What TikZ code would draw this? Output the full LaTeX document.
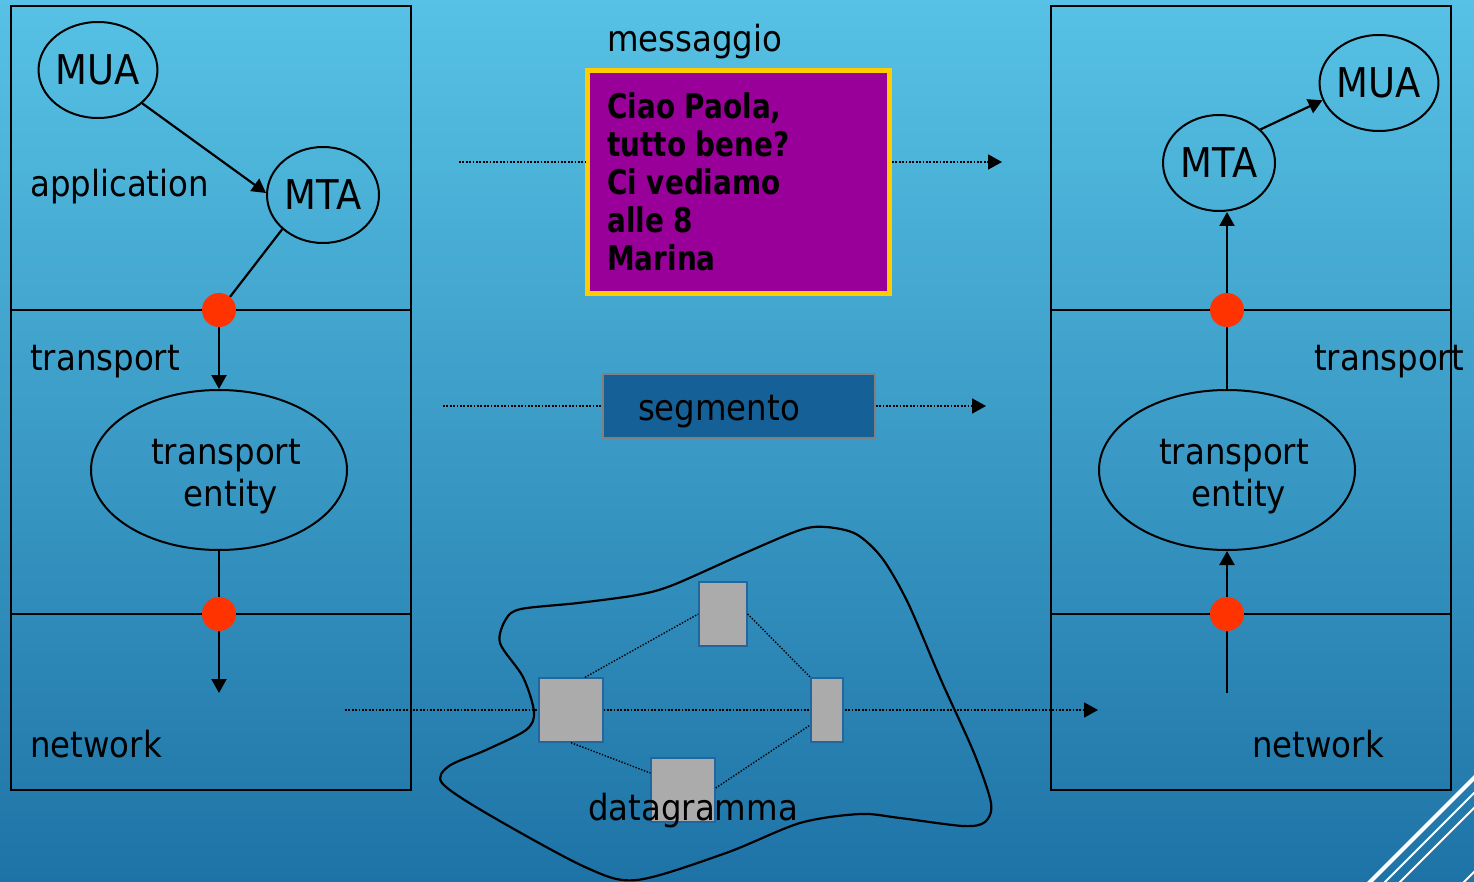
\documentclass[tikz,border=0pt]{standalone}
\usepackage{fontspec}
\setmainfont{DejaVu Sans}[FakeStretch=0.9]
\newfontfamily\msgfont{DejaVu Sans}[FakeStretch=0.82]
\usetikzlibrary{arrows.meta,shapes.geometric}
\definecolor{bgtop}{RGB}{87,194,229}
\definecolor{bgbot}{RGB}{30,115,166}
\definecolor{dotred}{RGB}{255,51,0}
\definecolor{msgpurple}{RGB}{153,0,153}
\definecolor{msgyellow}{RGB}{255,204,0}
\definecolor{segblue}{RGB}{21,96,150}
\definecolor{segedge}{RGB}{128,128,128}
\definecolor{routergray}{RGB}{171,171,171}
\definecolor{routeredge}{RGB}{34,102,160}
\begin{document}
\begin{tikzpicture}[x=1pt,y=-1pt,
  lbl/.style={inner sep=0, font=\fontsize{36}{42}\selectfont, anchor=base west},
  ell/.style={ellipse, draw, line width=2, inner sep=0, minimum width=112, minimum height=96, font=\fontsize{41}{48}\selectfont},
  bigell/.style={ellipse, draw, line width=2, inner sep=0, minimum width=256, minimum height=160},
  ellt/.style={inner sep=0, align=center, font=\fontsize{36}{42}\selectfont},
  layerbox/.style={draw, line width=2.2},
  reddot/.style={circle, fill=dotred, inner sep=0, minimum size=34},
  arr/.style={line width=2.2, -{Triangle[length=14pt,width=15pt]}},
  ln/.style={line width=2.2},
  dotline/.style={line width=1.8, dash pattern=on 1.8pt off 1.6pt},
  dotarr/.style={dotline, -{Triangle[length=14pt,width=15pt]}},
  thindot/.style={line width=1.4, dash pattern=on 1.4pt off 1.6pt},
  router/.style={rectangle, fill=routergray, draw=routeredge, line width=1.4, inner sep=0},
  msgline/.style={inner sep=0, anchor=base west, font=\msgfont\bfseries\fontsize{34}{38}\selectfont},
]
\useasboundingbox (0,0) rectangle (1474,882);
\shade[top color=bgtop, bottom color=bgbot] (0,0) rectangle (1474,882);

% corner decoration
\begin{scope}
\clip (0,0) rectangle (1474,882);
\draw[white, line width=4] (1366,886) -- (1478,774);
\draw[white, line width=2] (1381,886) -- (1478,789);
\draw[white, line width=2] (1396,886) -- (1478,804);
\draw[white, line width=2] (1460,886) -- (1478,868);
\end{scope}

% layer boxes
\draw[layerbox] (11,6) rectangle (411,790);
\draw[layerbox] (11,310) -- (411,310);
\draw[layerbox] (11,614) -- (411,614);
\draw[layerbox] (1051,6) rectangle (1451,790);
\draw[layerbox] (1051,310) -- (1451,310);
\draw[layerbox] (1051,614) -- (1451,614);

% layer labels
\node[lbl] (appL) at (30,197) {application};
\node[lbl] (trL) at (30,370) {transport};
\node[lbl] (netL) at (30,757) {network};
\node[lbl] (trR) at (1314,370) {transport};
\node[lbl] (netR) at (1252,757) {network};

% left stack
\node[ell] (muaL) at (98,70) {MUA};
\node[ell] (mtaL) at (323,195) {MTA};
\node[reddot] (dL1) at (219,310) {};
\node[bigell] (teL) at (219,470) {};
\node[ellt] (teLt) at ([xshift=7pt,yshift=-7pt]teL.center) {transport\\\hspace*{10pt}entity};
\node[reddot] (dL2) at (219,614) {};
\coordinate (cL) at (219,693);
\draw[arr] (muaL.-37) -- (mtaL.178);
\draw[ln] (mtaL.220) -- (dL1.50);
\draw[arr] (dL1) -- (teL.north);
\draw[ln] (teL.south) -- (dL2);
\draw[arr] (dL2) -- (cL);

% right stack
\node[ell] (muaR) at (1379,83) {MUA};
\node[ell] (mtaR) at (1219,163) {MTA};
\node[reddot] (dR1) at (1227,310) {};
\node[bigell] (teR) at (1227,470) {};
\node[ellt] (teRt) at ([xshift=7pt,yshift=-7pt]teR.center) {transport\\\hspace*{10pt}entity};
\node[reddot] (dR2) at (1227,614) {};
\coordinate (cR) at (1227,693);
\draw[arr] (mtaR.39) -- (muaR.197);
\draw[arr] (dR1) -- (mtaR.south -| dR1);
\draw[ln] (dR1) -- (teR.north);
\draw[arr] (dR2) -- (teR.south);
\draw[ln] (cR) -- (dR2);

% message
\node[lbl] (msgt) at (607,52) {messaggio};
\node[draw=msgyellow, fill=msgpurple, line width=5, inner sep=0, minimum width=302, minimum height=223] (box) at (738.5,182) {};
\node[msgline] (m1) at (607,119) {Ciao Paola,};
\node[msgline] (m2) at (607,157) {tutto bene?};
\node[msgline] (m3) at (607,195) {Ci vediamo};
\node[msgline] (m4) at (607,233) {alle 8};
\node[msgline] (m5) at (607,271) {Marina};
\coordinate (ms) at (459,162);
\coordinate (me) at (1002,162);
\draw[dotline] (ms) -- (ms -| box.west);
\draw[dotarr] (me -| box.east) -- (me);

% segment
\node[draw=segedge, fill=segblue, line width=1.5, inner sep=0, minimum width=272, minimum height=64] (seg) at (739,406) {};
\node[lbl, anchor=base] (segt) at (719,420) {segmento};
\coordinate (ss) at (443,406);
\coordinate (se) at (986,406);
\draw[dotline] (ss) -- (seg.west);
\draw[dotarr] (seg.east) -- (se);

% network cloud
\coordinate (ns) at (345,710);
\coordinate (ne) at (1098,710);
\draw[dotarr] (ns) -- (ne);
\draw[line width=2.2] plot[smooth cycle, tension=0.5] coordinates {
 (500,643) (506,619) (521,609) (578,603) (637,595) (673,585) (745,553) (800,530)
 (826,527) (856,534) (882,558) (908,603) (941,680) (974,753) (991,803) (985,822)
 (963,826) (900,818) (860,814) (800,823) (726,853) (637,880) (585,867) (486,813)
 (442,783) (449,766) (486,750) (526,730) (534,712) (523,677)};
\node[router, minimum width=64, minimum height=64] (r1) at (571,710) {};
\node[router, minimum width=48, minimum height=64] (r2) at (723,614) {};
\node[router, minimum width=32, minimum height=64] (r3) at (827,710) {};
\node[router, minimum width=64, minimum height=64] (r4) at (683,790) {};
\draw[thindot] ([xshift=14pt]r1.north) -- (r2.west);
\draw[thindot] (r2.east) -- (r3.north west);
\draw[thindot] (r1.south) -- ([yshift=17pt]r4.west);
\draw[thindot] ([yshift=2pt]r4.east) -- ([yshift=-15pt]r3.west);
\node[lbl, anchor=base] (dgt) at (693,820) {datagramma};
\end{tikzpicture}
\end{document}
